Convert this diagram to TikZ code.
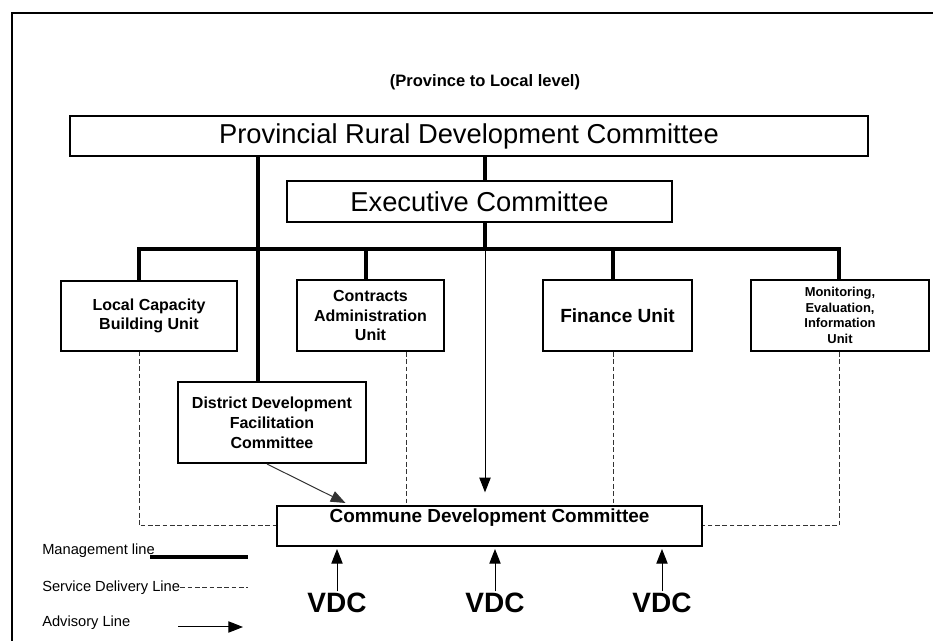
\documentclass[tikz,border=0pt]{standalone}
\usepackage{fontspec}
\setmainfont{Liberation Sans}
\usetikzlibrary{arrows.meta}

\begin{document}
\begin{tikzpicture}[x=0.75pt,y=-0.75pt,
    unitbox/.style={draw, line width=1.5pt, align=center, inner sep=2pt,
        font=\bfseries\fontsize{12}{14.5}\selectfont},
    bigbox/.style={draw, line width=1.1pt, inner sep=2pt,
        font=\fontsize{20.5}{24}\selectfont},
    mgmt/.style={line width=2.4pt},
    service/.style={line width=0.75pt, black!80, dash pattern=on 3.5pt off 2pt},
    advisory/.style={line width=0.75pt, -{Triangle[length=11pt,width=8.5pt]}},
    legend/.style={anchor=west, inner sep=0pt, font=\fontsize{11}{13}\selectfont},
    vdc/.style={inner sep=1pt, font=\bfseries\fontsize{21}{24}\selectfont}]
    \useasboundingbox (0,0) rectangle (933,641);

    % frame
    \draw[line width=1.4pt] (12,641) -- (12,13) -- (933,13);

    \node (title) at (485,82) {\bfseries\fontsize{12.4}{14}\selectfont (Province to Local level)};

    % Committees
    \node[bigbox, minimum width=598.5pt, minimum height=30pt] (prdc) at (469,136) {Provincial Rural Development Committee};
    \node[bigbox, minimum width=288.75pt, minimum height=30.75pt] (exec) at (479.5,201.5) {Executive Committee};

    % Units
    \node[unitbox, line width=0.8pt, minimum width=132pt, minimum height=52.5pt] (lcbu) at (149,316) {Local Capacity\\Building Unit};
    \node[unitbox, minimum width=110.25pt, minimum height=53.25pt] (cau) at (370.5,315.5) {Contracts\\Administration\\Unit};
    \node[unitbox, minimum width=111.75pt, minimum height=53.25pt, font=\bfseries\fontsize{14.3}{17}\selectfont] (fu) at (617.5,315.5) {Finance Unit};
    \node[unitbox, minimum width=133.5pt, minimum height=53.25pt, font=\bfseries\fontsize{9.7}{11.6}\selectfont] (meiu) at (840,315.5) {Monitoring,\\Evaluation,\\Information\\Unit};
    \node[unitbox, minimum width=141pt, minimum height=60.75pt, font=\bfseries\fontsize{12}{15}\selectfont] (ddfc) at (272,422.5) {District Development\\Facilitation\\Committee};
    \node[unitbox, minimum width=318.75pt, text height=9.75pt, text depth=14.25pt, inner ysep=3pt,
        font=\bfseries\fontsize{14.2}{17}\selectfont] (cdc) at (489.5,526) {Commune Development Committee};

    % VDCs
    \node[vdc] (v1) at (337,603) {VDC};
    \node[vdc] (v2) at (495,603) {VDC};
    \node[vdc] (v3) at (662,603) {VDC};

    % junctions
    \coordinate (bar) at (485,249);
    \coordinate (jl) at (139,249);
    \coordinate (jd) at (258,249);
    \coordinate (jc) at (366,249);
    \coordinate (jf) at (613,249);
    \coordinate (jm) at (839,249);
    \coordinate (sl) at (139,526);
    \coordinate (sc) at (406,526);
    \coordinate (sm) at (839,526);

    % Management lines
    \draw[mgmt] (prdc.south -| bar) -- (exec.north -| bar);
    \draw[mgmt] (exec.south -| bar) -- (bar);
    \draw[mgmt] (jl |- lcbu.north) -- (jl) -- (jm) -- (jm |- meiu.north);
    \draw[mgmt] (jc) -- (jc |- cau.north);
    \draw[mgmt] (jf) -- (jf |- fu.north);
    \draw[mgmt] (prdc.south -| jd) -- (jd |- ddfc.north);

    % Service delivery lines
    \draw[service] (jl |- lcbu.south) -- (sl) -- (cdc.west);
    \draw[service] (sc |- cau.south) -- (sc |- cdc.north);
    \draw[service] (jf |- fu.south) -- (jf |- cdc.north);
    \draw[service] (jm |- meiu.south) -- (sm) -- (cdc.east);

    % Advisory lines
    \draw[advisory, shorten >=9.5pt] (bar) -- (bar |- cdc.north);
    \draw[advisory, black!80] ([xshift=-3.75pt]ddfc.south) -- ([xshift=-108pt, yshift=1.5pt]cdc.north);
    \draw[advisory, shorten >=1.5pt] (v1.north) -- (v1 |- cdc.south);
    \draw[advisory, shorten >=1.5pt] (v2.north) -- (v2 |- cdc.south);
    \draw[advisory, shorten >=1.5pt] (v3.north) -- (v3 |- cdc.south);

    % Legend
    \node[legend] (lm) at (42,551) {Management line};
    \node[legend] (ls) at (42,588) {Service Delivery Line};
    \node[legend] (la) at (42,623) {Advisory Line};
    \coordinate (lm1) at (150,557);
    \coordinate (lm2) at (248,557);
    \coordinate (ls2) at (248,588);
    \coordinate (la1) at (178,627);
    \coordinate (la2) at (243,627);
    \draw[mgmt] (lm1) -- (lm2);
    \draw[service] (ls.east) -- (ls2);
    \draw[advisory] (la1) -- (la2);
\end{tikzpicture}
\end{document}
